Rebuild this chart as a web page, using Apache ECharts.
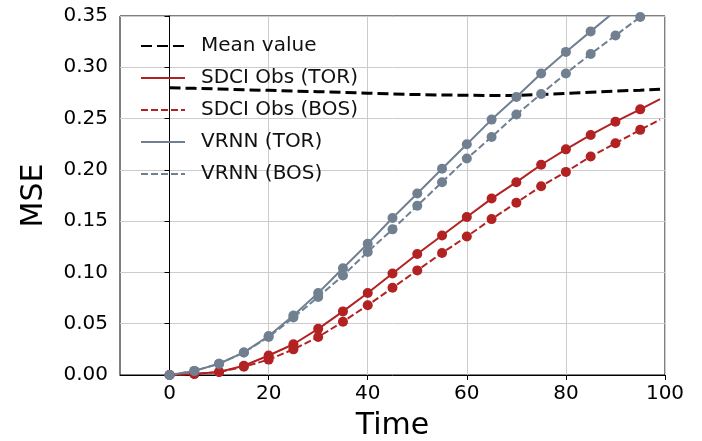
<!DOCTYPE html>
<html>
<head>
<meta charset="utf-8">
<script src="https://cdn.jsdelivr.net/npm/echarts@6/dist/echarts.min.js"></script>
<style>
  html, body { margin: 0; padding: 0; background: #fff; }
  #chart { width: 702px; height: 441px; }
</style>
</head>
<body>
<div id="chart"></div>
<script>
// time steps (markers every 5, last point 99 has no marker)
const times = [0, 5, 10, 15, 20, 25, 30, 35, 40, 45, 50, 55, 60, 65, 70, 75, 80, 85, 90, 95, 99]
const xTicks = [0, 20, 40, 60, 80, 100]

const meanValue = [0.2800, 0.2795, 0.2788, 0.2781, 0.2775, 0.2768, 0.2762, 0.2756, 0.2748, 0.2740, 0.2734,
  0.2730, 0.2727, 0.2725, 0.2724, 0.2735, 0.2745, 0.2757, 0.2768, 0.2777, 0.2785]
const sdciTor = [0.000, 0.001, 0.003, 0.009, 0.019, 0.030, 0.045, 0.062, 0.080, 0.099, 0.118,
  0.136, 0.154, 0.172, 0.188, 0.205, 0.220, 0.234, 0.247, 0.259, 0.269]
const sdciBos = [0.000, 0.001, 0.003, 0.008, 0.015, 0.025, 0.037, 0.052, 0.068, 0.085, 0.102,
  0.119, 0.135, 0.152, 0.168, 0.184, 0.198, 0.213, 0.226, 0.239, 0.249]
const vrnnTor = [0.000, 0.004, 0.011, 0.022, 0.038, 0.058, 0.080, 0.104, 0.128, 0.153, 0.177,
  0.201, 0.225, 0.249, 0.271, 0.294, 0.315, 0.335, 0.355, 0.374, 0.389]
const vrnnBos = [0.000, 0.004, 0.011, 0.022, 0.037, 0.056, 0.076, 0.097, 0.120, 0.142, 0.165,
  0.188, 0.211, 0.232, 0.254, 0.274, 0.294, 0.313, 0.331, 0.349, 0.362]

const RED = '#b22222'
const GRAY = '#708090'
const FONT = 'DejaVu Sans'

const pairs = (vals) => times.map((t, i) => [t, vals[i]])
const markerSize = (v) => (v[0] % 5 === 0 ? 10 : 0)

const markedLine = (name, vals, color, dashed) => ({
  name: name,
  type: 'line',
  data: pairs(vals),
  symbol: 'circle',
  symbolSize: markerSize,
  itemStyle: { color: color },
  lineStyle: { color: color, width: 2, type: dashed ? [7, 3] : 'solid' },
  emphasis: { disabled: true },
  z: 3
})

const chart = echarts.init(document.getElementById('chart'))
const option = {
  animation: false,
  textStyle: { fontFamily: FONT },
  grid: {
    left: 120, right: 37, top: 16, bottom: 66,
    outerBoundsMode: 'none',
    show: true, borderColor: '#000', borderWidth: 1
  },
  legend: {
    orient: 'vertical',
    left: 140,
    top: 36,
    padding: 0,
    itemWidth: 44,
    itemHeight: 14,
    itemGap: 12,
    itemStyle: { opacity: 0 },
    textStyle: { fontFamily: FONT, fontSize: 20, color: '#111', lineHeight: 20, padding: [0, 0, 0, 11] },
    data: ['Mean value', 'SDCI Obs (TOR)', 'SDCI Obs (BOS)', 'VRNN (TOR)', 'VRNN (BOS)']
  },
  xAxis: {
    type: 'value',
    min: -10,
    max: 100,
    name: 'Time',
    nameLocation: 'middle',
    nameGap: 36,
    nameTextStyle: { fontFamily: FONT, fontSize: 30, color: '#000' },
    axisLine: { show: true, onZero: false, lineStyle: { color: '#000', width: 1 } },
    axisTick: { show: true, length: 5, customValues: xTicks, lineStyle: { color: '#000' } },
    axisLabel: { customValues: xTicks, fontFamily: FONT, fontSize: 20, color: '#000', margin: 9 },
    splitLine: { show: true, lineStyle: { color: '#cccccc', width: 1 } }
  },
  yAxis: {
    type: 'value',
    min: 0,
    max: 0.35,
    interval: 0.05,
    name: 'MSE',
    nameLocation: 'middle',
    nameGap: 71,
    nameTextStyle: { fontFamily: FONT, fontSize: 30, color: '#000' },
    axisLine: { show: true, lineStyle: { color: '#000', width: 1 } },
    axisTick: { show: true, length: 5, lineStyle: { color: '#000' } },
    axisLabel: {
      fontFamily: FONT, fontSize: 20, color: '#000', margin: 12,
      formatter: (v) => v.toFixed(2)
    },
    splitLine: { show: true, lineStyle: { color: '#cccccc', width: 1 } }
  },
  series: [
    {
      name: 'Mean value',
      type: 'line',
      data: pairs(meanValue),
      symbol: 'none',
      itemStyle: { color: '#000' },
      lineStyle: { color: '#000', width: 3, type: [11, 5] },
      emphasis: { disabled: true },
      z: 2
    },
    markedLine('SDCI Obs (TOR)', sdciTor, RED, false),
    markedLine('SDCI Obs (BOS)', sdciBos, RED, true),
    markedLine('VRNN (TOR)', vrnnTor, GRAY, false),
    markedLine('VRNN (BOS)', vrnnBos, GRAY, true)
  ]
}
chart.setOption(option)
window.addEventListener('resize', () => {
  chart.resize()
})
</script>
</body>
</html>
